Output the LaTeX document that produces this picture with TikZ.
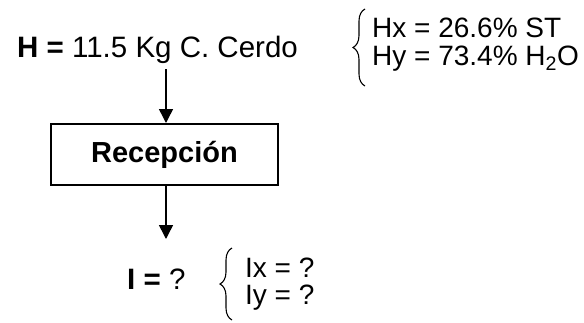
\documentclass[tikz,border=0pt]{standalone}
\usepackage{fontspec}
\setmainfont{Liberation Sans}
\usetikzlibrary{arrows.meta,decorations.pathreplacing}
\begin{document}
\begin{tikzpicture}[x=1pt,y=-1pt,
  big/.style={inner sep=0pt,anchor=base west,font=\fontsize{29.5}{34}\selectfont},
  small/.style={inner sep=0pt,anchor=base west,font=\fontsize{28}{32}\selectfont},
  arr/.style={line width=1.5pt,-{Triangle[width=14pt,length=14pt]}},
  brc/.style={line width=1.1pt,decorate,decoration={brace,amplitude=12pt,aspect=0.5}},
  procbox/.style={draw,line width=2pt,minimum width=227pt,minimum height=61pt,inner sep=0pt,
    font=\fontsize{29}{34}\selectfont\bfseries}]
\useasboundingbox (0,0) rectangle (584,322);
\node[big] (h) at (17,57) {\textbf{H =} 11.5 Kg C. Cerdo};
\draw[brc] (365,86) -- (365,9);
\node[small] (hx) at (372,37) {Hx = 26.6\% ST};
\node[small] (hy) at (372,65) {Hy = 73.4\% H\textsubscript{2}O};
\node[procbox] (rec) at (164.5,154.5) {Recepción};
\coordinate (a1) at (166,69);
\draw[arr] (a1) -- (a1 |- rec.north);
\node[big] (i) at (127,289) {\textbf{I =} ?};
\coordinate (a2) at (166,239);
\draw[arr] (a2 |- rec.south) -- (a2);
\draw[brc] (232,320) -- (232,248);
\node[small] (ix) at (245,277) {Ix = ?};
\node[small] (iy) at (245,304) {Iy = ?};
\end{tikzpicture}
\end{document}
